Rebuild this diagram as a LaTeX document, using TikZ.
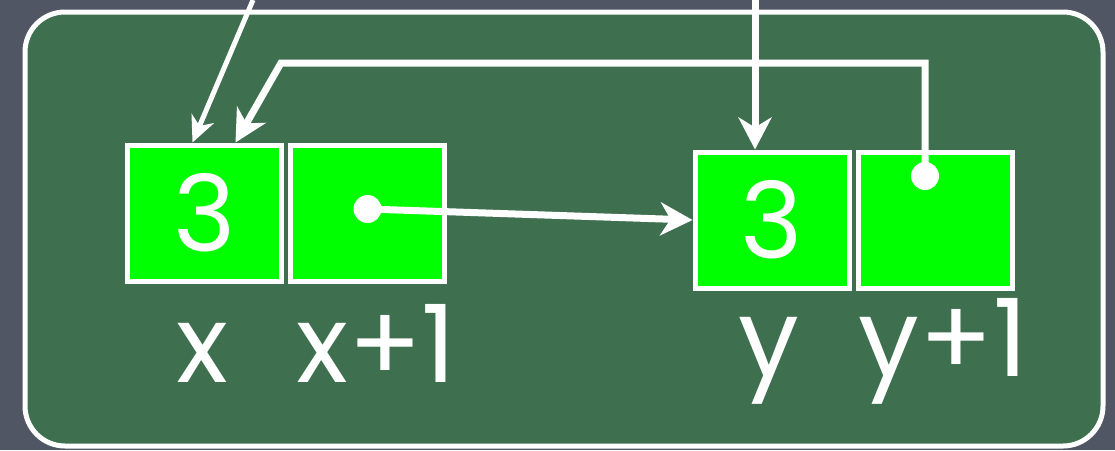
\documentclass[tikz,border=0pt]{standalone}
\usepackage{fontspec}
\setmainfont{Poppins}
\usetikzlibrary{positioning,arrows.meta}
\definecolor{slate}{RGB}{80,86,100}
\definecolor{board}{RGB}{62,112,80}
\definecolor{cellgreen}{RGB}{0,255,0}

\begin{document}
\begin{tikzpicture}[x=1pt,y=-1pt,node distance=4pt,
  cell/.style={draw=white,fill=cellgreen,line width=5pt,minimum width=154pt,minimum height=136pt,inner sep=0pt,text=white,font=\fontsize{106}{106}\selectfont},
  lbl/.style={text=white,anchor=base,inner sep=0pt,font=\fontsize{108}{108}\selectfont},
  ptr/.style={draw=white,line width=7pt,-{Stealth[length=32pt,width=33pt,inset=10pt]}},
  thinptr/.style={draw=white,line width=5pt,-{Stealth[length=26pt,width=24pt,inset=8pt]}},
  dot/.style={fill=white}]
\useasboundingbox[fill=slate] (0,0) rectangle (1115,450);
\draw[white,line width=5pt,fill=board,rounded corners=40pt] (25,12) rectangle (1103,446);

\node[cell] (x) at (204.5,213) {3};
\node[cell,right=of x] (x1) {};
\node[cell] (y) at (772,220) {3};
\node[cell,right=of y] (y1) {};

\node[lbl] (xlbl) at ([xshift=-2pt,yshift=-99pt]x.south) {x};
\node[lbl] (x1lbl) at ([xshift=9pt,yshift=-99pt]x1.south) {x+1};
\node[lbl] (ylbl) at ([xshift=-3pt,yshift=-86pt]y.south) {y};
\node[lbl] (y1lbl) at ([xshift=8pt,yshift=-86pt]y1.south) {y+1};

\coordinate (xsrc) at (253,0);
\coordinate (ysrc) at (755,0);
\coordinate (bend) at (281,63);
\coordinate (x1dot) at ([yshift=4pt]x1.center);
\coordinate (y1dot) at ([xshift=-10pt,yshift=44pt]y1.center);

\draw[thinptr] (xsrc) -- ([xshift=-12pt]x.north);
\draw[ptr] (ysrc) -- (ysrc |- y.north);
\fill[dot] (x1dot) circle (14);
\draw[ptr] (x1dot) -- (y.west);
\fill[dot] (y1dot) circle (14);
\draw[ptr] (y1dot) |- (bend) -- ([xshift=31pt]x.north);
\end{tikzpicture}
\end{document}
